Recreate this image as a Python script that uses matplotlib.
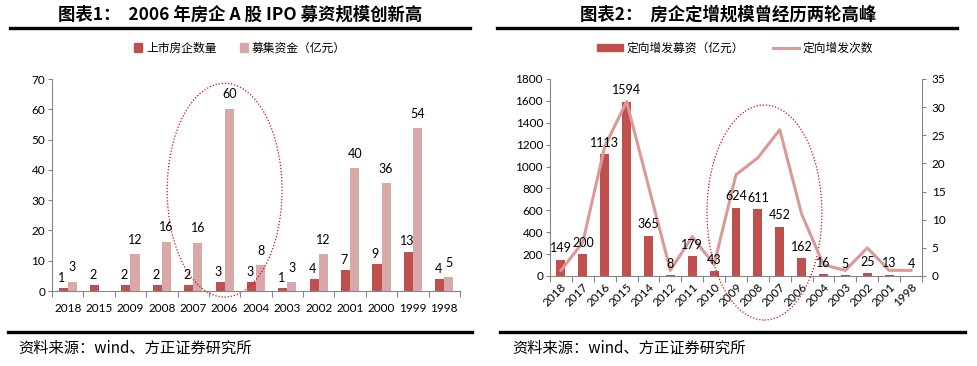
import matplotlib
matplotlib.use('Agg')
import matplotlib.pyplot as plt
import numpy as np
from matplotlib.lines import Line2D
from matplotlib.patches import Ellipse, Patch

plt.rcParams['font.family'] = ['Noto Sans CJK SC', 'DejaVu Sans']

# ---- data: chart 1 (IPO) ----
ipo_years = ['2018', '2015', '2009', '2008', '2007', '2006', '2004', '2003',
             '2002', '2001', '2000', '1999', '1998']
ipo_count = [1, 2, 2, 2, 2, 3, 3, 1, 4, 7, 9, 13, 4]
ipo_funds = [3.1, 0, 12.2, 16.3, 16.0, 60.2, 8.5, 3.0, 12.2, 40.5, 35.6, 53.8, 4.6]

# ---- data: chart 2 (private placement) ----
pp_years = ['2018', '2017', '2016', '2015', '2014', '2012', '2011', '2010', '2009',
            '2008', '2007', '2006', '2004', '2003', '2002', '2001', '1998']
pp_funds = [149, 200, 1113, 1594, 365, 8, 179, 43, 624, 611, 452, 162, 16, 5, 25, 13, 4]
pp_times = [1, 6, 23, 31, 16, 1, 7, 2, 18, 21, 26, 11, 2, 1, 5, 1, 1]

RED = '#C0504D'
PINK = '#D9A8A9'
LINE = '#DA9A98'
AXC = '#868686'
NUMFONT = 'Lato'

W, H = 977, 366
fig = plt.figure(figsize=(W / 100, H / 100), dpi=100)


def px_axes(x0, y0, x1, y1):
    return fig.add_axes([x0 / W, 1 - y1 / H, (x1 - x0) / W, (y1 - y0) / H])


def hline(x0, x1, y, lw=2.4):
    fig.add_artist(Line2D([x0 / W, x1 / W], [1 - y / H, 1 - y / H], color='black',
                          linewidth=lw, transform=fig.transFigure))


def style_axes(ax, n):
    for s in ['top', 'right']:
        ax.spines[s].set_visible(False)
    ax.spines['left'].set_color(AXC)
    ax.spines['bottom'].set_color(AXC)
    ax.set_xlim(-0.5, n - 0.5)
    ax.set_xticks(np.arange(n + 1) - 0.5)
    ax.set_xticklabels([])
    ax.tick_params(axis='x', which='major', length=4, color=AXC)
    ax.tick_params(axis='x', which='minor', length=0)
    ax.tick_params(axis='y', length=3, color=AXC, labelsize=8.5, pad=2)


# ================= chart 1 =================
ax1 = px_axes(52, 79, 460, 291)
x = np.arange(len(ipo_years))
bw = 0.29
ax1.bar(x - bw / 2, ipo_count, bw, color=RED)
ax1.bar(x + bw / 2, ipo_funds, bw, color=PINK)
ax1.set_ylim(0, 70)
ax1.set_yticks(range(0, 71, 10))
style_axes(ax1, len(ipo_years))
ax1.set_xticks(x, minor=True)
ax1.set_xticklabels(ipo_years, minor=True, fontsize=8.5, family=NUMFONT)
ax1.tick_params(axis='x', which='minor', pad=9)
for lab in ax1.get_yticklabels():
    lab.set_family(NUMFONT)

for i, v in enumerate(ipo_count):
    ax1.annotate(f'{v:.0f}', (x[i] - bw / 2 - 0.05, v), xytext=(0, 3),
                 textcoords='offset points', ha='center', va='bottom',
                 fontsize=9, family=NUMFONT)
for i, v in enumerate(ipo_funds):
    if v > 0:
        ax1.annotate(f'{v:.0f}', (x[i] + bw / 2, v), xytext=(0, 6),
                     textcoords='offset points', ha='center', va='bottom',
                     fontsize=9, family=NUMFONT)

ax1.add_patch(Ellipse((5.0, 33.3), 3.66, 70.6, fill=False, edgecolor='#D01010',
                      linestyle=(0, (1, 1.5)), linewidth=0.9, clip_on=False))

ax1.legend(handles=[Patch(color=RED, label='上市房企数量'),
                    Patch(color=PINK, label='募集资金（亿元）')],
           loc='center', bbox_to_anchor=(240 / W, 1 - 48 / H),
           bbox_transform=fig.transFigure, ncol=2, frameon=False, fontsize=8.5,
           handlelength=0.7, handleheight=0.7, handletextpad=0.3, columnspacing=2.0)

# ================= chart 2 =================
ax2 = px_axes(550, 79, 922, 276)
x2 = np.arange(len(pp_years))
ax2.bar(x2, pp_funds, 0.41, color=RED)
ax2.set_ylim(0, 1800)
ax2.set_yticks(range(0, 1801, 200))
style_axes(ax2, len(pp_years))
ax2.set_xticks(x2, minor=True)
ax2.set_xticklabels(pp_years, minor=True, fontsize=8.5, family=NUMFONT,
                    rotation=45, ha='right', rotation_mode='anchor')
ax2.tick_params(axis='x', which='minor', pad=4)
for lab in ax2.get_yticklabels():
    lab.set_family(NUMFONT)

ax2r = ax2.twinx()
ax2r.plot(x2, pp_times, color=LINE, linewidth=2.2)
ax2r.set_ylim(0, 35)
ax2r.set_yticks(range(0, 36, 5))
for s in ['top', 'left', 'bottom']:
    ax2r.spines[s].set_visible(False)
ax2r.spines['right'].set_color(AXC)
ax2r.tick_params(axis='y', length=3, color=AXC, labelsize=8.5, pad=4)
for lab in ax2r.get_yticklabels():
    lab.set_family(NUMFONT)

# bar labels drawn on the twin axes so they sit above the line
for i, v in enumerate(pp_funds):
    ax2r.annotate(f'{v}', (x2[i], v), xycoords=ax2.transData, xytext=(0, 4),
                  textcoords='offset points', ha='center', va='bottom',
                  fontsize=9, family=NUMFONT)

ax2r.add_patch(Ellipse((9.3, 580), 5.25, 1965, transform=ax2.transData, fill=False,
                       edgecolor='#D01010', linestyle=(0, (1, 1.5)), linewidth=0.9,
                       clip_on=False))

fig.legend(handles=[Patch(color=RED, label='定向增发募资（亿元）'),
                    Line2D([], [], color=LINE, linewidth=2.2, label='定向增发次数')],
           loc='center', bbox_to_anchor=(735 / W, 1 - 48 / H),
           bbox_transform=fig.transFigure, ncol=2, frameon=False, fontsize=8.5,
           handlelength=2.2, handleheight=0.6, handletextpad=0.3, columnspacing=2.5)

# ================= titles, rules, footers =================
fig.text(240 / W, 1 - 15 / H, '图表1：  2006 年房企 A 股 IPO 募资规模创新高',
         ha='center', va='center', fontsize=12.5, fontweight='bold')
fig.text(728 / W, 1 - 15 / H, '图表2：  房企定增规模曾经历两轮高峰',
         ha='center', va='center', fontsize=12.5, fontweight='bold')
hline(10, 470, 28)
hline(497, 957, 28)
hline(8, 472, 332)
hline(500, 965, 332)
fig.text(18 / W, 1 - 348 / H, '资料来源：wind、方正证券研究所', ha='left', va='center',
         fontsize=11, style='italic')
fig.text(512 / W, 1 - 348 / H, '资料来源：wind、方正证券研究所', ha='left', va='center',
         fontsize=11, style='italic')

fig.savefig('out.png', dpi=100)
